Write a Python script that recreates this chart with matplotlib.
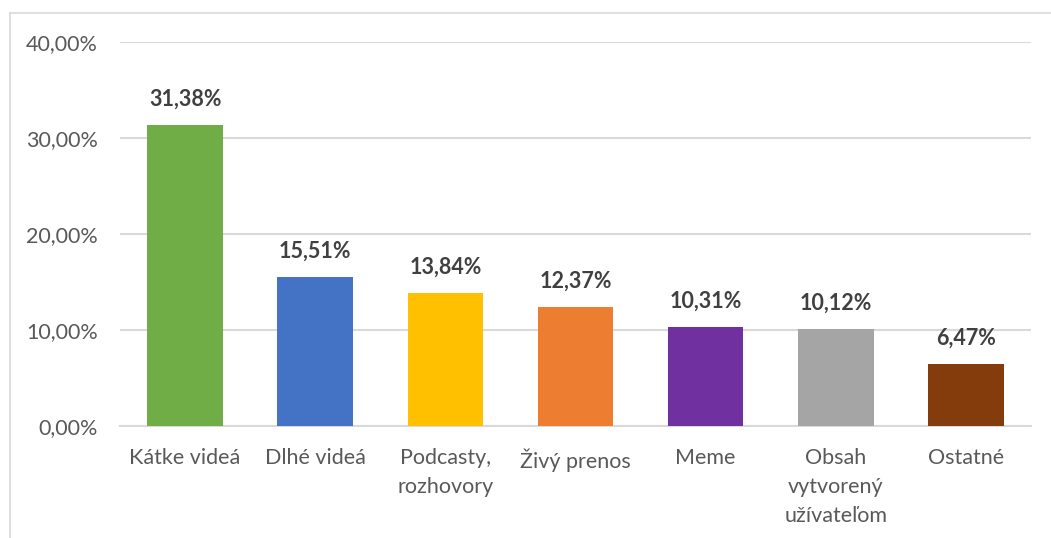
import matplotlib.pyplot as plt
from matplotlib.lines import Line2D
from matplotlib.ticker import FuncFormatter

# Content categories and their shares (%)
categories = ["Kátke videá", "Dlhé videá", "Podcasty,\nrozhovory", "Živý prenos",
              "Meme", "Obsah\nvytvorený\nužívateľom", "Ostatné"]
shares = [31.38, 15.51, 13.84, 12.37, 10.31, 10.12, 6.47]
colors = ["#70AD47", "#4472C4", "#FFC000", "#ED7D31", "#7030A0", "#A5A5A5", "#843C0C"]

plt.rcParams['font.family'] = ['Lato', 'DejaVu Sans']

fig = plt.figure(figsize=(10.51, 5.38), dpi=100)
ax = fig.add_axes([0.1142, 0.2082, 0.8668, 0.7138])

x = range(len(categories))
bars = ax.bar(x, shares, width=0.58, color=colors, zorder=3)

# Value labels above bars
for rect, v in zip(bars, shares):
    ax.annotate(f"{v:.2f}%".replace(".", ","),
                (rect.get_x() + rect.get_width() / 2, v),
                xytext=(0, 11), textcoords="offset points",
                ha="center", va="bottom", fontsize=15.5, fontweight="bold",
                color="#404040")

ax.set_xlim(-0.5, len(categories) - 0.5)
ax.set_ylim(0, 40)
ax.set_yticks([0, 10, 20, 30, 40])
ax.yaxis.set_major_formatter(FuncFormatter(lambda v, p: f"{v:.2f}%".replace(".", ",")))
ax.set_xticks(list(x))
ax.set_xticklabels(categories, linespacing=1.55)

ax.grid(axis="y", color="#D9D9D9", linewidth=1.5, zorder=0)
for side in ["top", "right", "left"]:
    ax.spines[side].set_visible(False)
ax.spines["bottom"].set_color("#D9D9D9")
ax.spines["bottom"].set_linewidth(1.5)
ax.tick_params(axis="both", length=0, labelsize=15.5, labelcolor="#595959")
ax.tick_params(axis="y", pad=16)
ax.tick_params(axis="x", pad=16)

# Chart frame
fig.add_artist(Line2D([9.5 / 1051, 9.5 / 1051], [0, 1 - 12.5 / 538],
                      transform=fig.transFigure, color="#D9D9D9", linewidth=1.2))
fig.add_artist(Line2D([9.5 / 1051, 1], [1 - 12.5 / 538, 1 - 12.5 / 538],
                      transform=fig.transFigure, color="#D9D9D9", linewidth=1.2))

fig.savefig("out.png", dpi=100)
